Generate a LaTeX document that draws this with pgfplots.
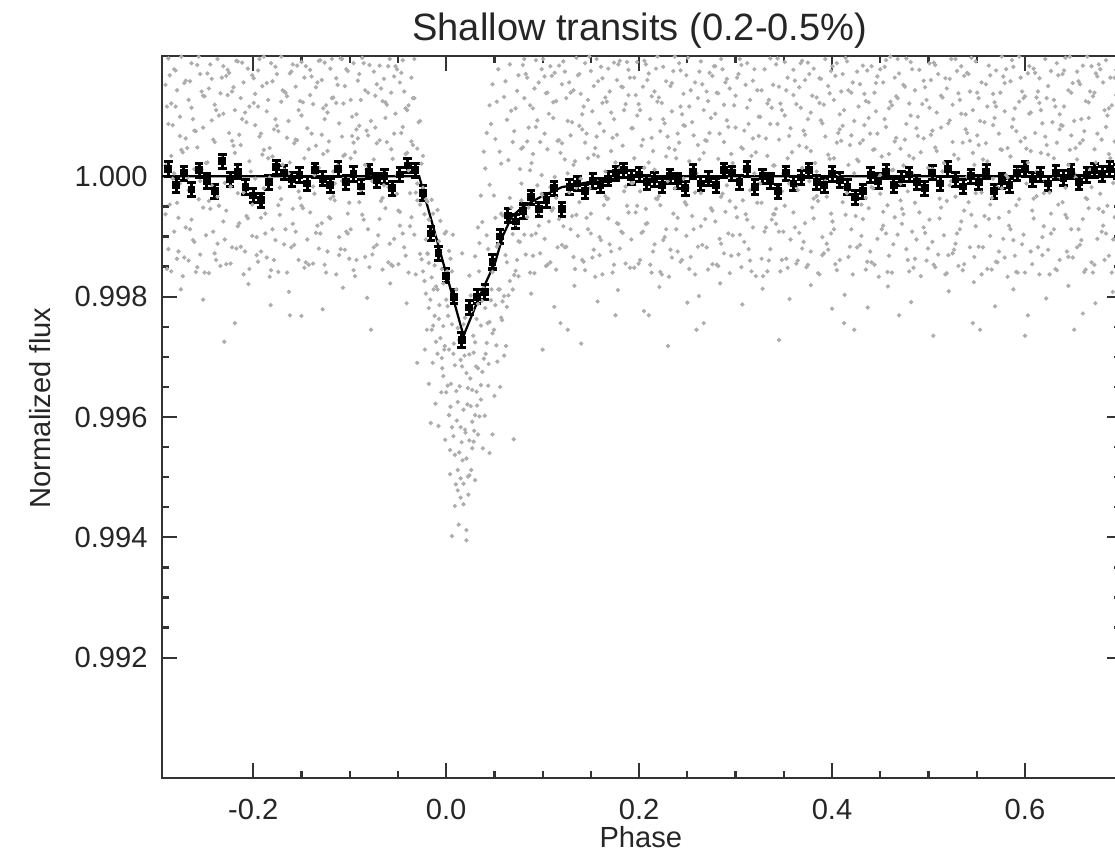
\documentclass[border=0pt]{standalone}
\usepackage{pgfplots}
\usepackage{pgfplotstable}
\pgfplotsset{compat=1.18}
\usepackage{fontspec}
\setmainfont{Liberation Sans}

\pgfplotstableread{
x a b c
-0.291 1.00152 0.99937 1.00018
-0.288 0.99879 1.00087 1.00196
-0.285 1.00034 0.99842 1.00121
-0.282 1.00178 1.00005 0.99908
-0.279 0.99956 1.00143 0.99863
-0.276 1.00099 0.99988 1.00067
-0.273 0.99834 1.00201 1.00040
-0.270 1.00063 0.99915 1.00159
-0.267 1.00127 0.99860 0.99977
-0.264 0.99928 1.00114 1.00188
-0.261 1.00012 0.99891 1.00076
-0.258 1.00185 1.00048 0.99849
-0.255 0.99870 1.00170 0.99992
-0.252 1.00081 0.99948 1.00134
-0.249 0.99902 1.00022 1.00207
-0.246 1.00146 0.99839 0.99959
-0.243 0.99985 1.00093 1.00162
-0.240 1.00057 0.99872 1.00119
-0.237 1.00195 0.99966 0.99888
-0.234 0.99851 1.00138 1.00029
-0.231 1.00104 0.99925 1.00183
-0.228 0.99943 1.00167 0.99854
-0.225 1.00172 0.99999 1.00072
-0.222 0.99882 1.00059 1.00141
-0.219 1.00039 0.99756 1.00110
-0.216 0.99917 1.00191 0.99972
-0.213 1.00130 0.99883 1.00052
-0.210 0.99973 1.00156 0.99837
-0.207 1.00090 0.99934 1.00204
-0.204 0.99846 1.00025 1.00116
-0.201 1.00168 0.99901 0.99953
-0.198 0.99996 1.00137 1.00085
-0.195 1.00116 0.99858 1.00176
-0.192 0.99931 1.00071 0.99875
-0.189 1.00199 0.99980 1.00044
-0.186 0.99865 1.00108 1.00155
-0.183 1.00047 0.99833 0.99998
-0.180 1.00158 1.00033 0.99912
-0.177 0.99894 1.00182 1.00095
-0.174 1.00075 0.99952 0.99841
-0.171 0.99962 1.00124 1.00199
-0.168 1.00141 0.99887 1.00011
-0.165 0.99840 1.00064 1.00133
-0.162 1.00023 0.99769 1.00171
-0.159 1.00186 0.99921 0.99946
-0.156 0.99908 1.00149 1.00061
-0.153 1.00110 0.99975 0.99861
-0.150 0.99951 1.00190 1.00101
-0.147 1.00164 0.99848 1.00030
-0.144 0.99989 1.00080 0.99895
-0.141 1.00135 0.99940 1.00177
-0.138 0.99855 1.00120 0.99983
-0.135 1.00051 0.99906 1.00148
-0.132 1.00192 1.00014 0.99880
-0.129 0.99922 1.00160 1.00069
-0.126 1.00095 0.99853 1.00189
-0.123 0.99875 1.00042 1.00106
-0.120 1.00179 0.99963 0.99930
-0.117 0.99967 1.00131 1.00008
-0.114 1.00122 0.99837 1.00163
-0.111 0.99899 1.00088 0.99869
-0.108 1.00066 0.99992 1.00195
-0.105 1.00150 0.99878 1.00036
-0.102 0.99938 1.00175 0.99905
-0.099 1.00030 0.99912 1.00127
-0.096 1.00188 1.00056 0.99844
-0.093 0.99861 1.00103 1.00078
-0.090 1.00084 0.99957 1.00170
-0.087 0.99981 1.00197 0.99936
-0.084 1.00143 0.99866 1.00019
-0.081 0.99912 1.00068 1.00139
-0.078 1.00005 0.99745 1.00092
-0.075 1.00174 1.00028 0.99882
-0.072 0.99886 1.00153 1.00055
-0.069 1.00060 0.99929 1.00184
-0.066 1.00125 0.99845 0.99964
-0.063 0.99947 1.00097 1.00123
-0.060 1.00183 0.99982 0.99857
-0.057 0.99853 1.00139 1.00045
-0.054 1.00071 0.99896 1.00166
-0.051 0.99971 1.00178 1.00002
-0.048 1.00156 0.99941 0.99918
-0.045 0.99905 1.00082 1.00193
-0.042 1.00037 0.99868 1.00113
-0.039 1.00118 1.00010 0.99840
-0.036 0.99932 1.00164 1.00058
-0.033 1.00195 0.99903 1.00130
-0.030 0.99960 1.00046 0.99988
-0.027 1.00092 0.99871 0.99953
-0.024 0.99981 0.99842 1.00034
-0.021 0.99895 0.99805 0.99962
-0.018 0.99928 0.99781 0.99856
-0.015 0.99832 0.99961 0.99745
-0.012 0.99903 0.99768 0.99852
-0.009 0.99705 0.99944 0.99812
-0.006 0.99873 0.99731 0.99926
-0.003 0.99668 0.99822 0.99751
0.000 0.99795 0.99641 0.99908
0.003 0.99712 0.99876 0.99603
0.006 0.99583 0.99754 0.99842
0.009 0.99686 0.99537 0.99801
0.012 0.99625 0.99748 0.99512
0.015 0.99466 0.99695 0.99583
0.018 0.99612 0.99489 0.99754
0.021 0.99531 0.99673 0.99412
0.024 0.99704 0.99561 0.99835
0.027 0.99592 0.99778 0.99645
0.030 0.99867 0.99603 0.99724
0.033 0.99681 0.99915 0.99788
0.036 0.99752 0.99629 0.99968
0.039 1.00041 0.99814 0.99697
0.042 0.99723 0.99902 1.00072
0.045 0.99986 0.99758 1.00118
0.048 0.99841 1.00153 0.99739
0.051 1.00062 0.99786 0.99931
0.054 0.99812 1.00178 0.99887
0.057 0.99765 1.00021 0.99938
0.060 1.00132 0.99801 0.99702
0.063 0.99857 1.00094 0.99783
0.066 1.00186 0.99826 0.99964
0.069 0.99904 0.99812 1.00057
0.072 1.00113 0.99843 0.99921
0.075 0.99834 1.00168 0.99892
0.078 1.00046 0.99988 0.99960
0.081 0.99903 1.00130 1.00195
0.084 1.00164 1.00058 0.99932
0.087 1.00010 0.99840 1.00118
0.090 0.99868 1.00113 1.00037
0.093 1.00082 1.00193 0.99905
0.096 0.99941 0.99918 1.00156
0.099 1.00178 1.00002 0.99971
0.102 0.99896 1.00166 1.00071
0.105 1.00139 1.00045 0.99853
0.108 0.99982 0.99857 1.00183
0.111 1.00097 1.00123 0.99947
0.114 0.99845 0.99964 1.00125
0.117 0.99929 1.00184 1.00060
0.120 1.00153 1.00055 0.99886
0.123 1.00028 0.99882 1.00174
0.126 0.99745 1.00092 1.00005
0.129 1.00068 1.00139 0.99912
0.132 0.99866 1.00019 1.00143
0.135 1.00197 0.99936 0.99981
0.138 0.99957 1.00170 1.00084
0.141 1.00103 1.00078 0.99861
0.144 1.00056 0.99844 1.00188
0.147 0.99912 1.00127 1.00030
0.150 1.00175 0.99905 0.99938
0.153 0.99878 1.00036 1.00150
0.156 0.99992 1.00195 1.00066
0.159 1.00088 0.99869 0.99899
0.162 0.99837 1.00163 1.00122
0.165 1.00131 1.00008 0.99967
0.168 0.99963 0.99930 1.00179
0.171 1.00042 1.00106 0.99875
0.174 0.99853 1.00189 1.00095
0.177 1.00160 1.00069 0.99922
0.180 1.00014 0.99880 1.00192
0.183 0.99906 1.00148 1.00051
0.186 1.00120 0.99983 0.99855
0.189 0.99940 1.00177 1.00135
0.192 1.00080 0.99895 0.99989
0.195 0.99848 1.00030 1.00164
0.198 1.00190 1.00101 0.99951
0.201 0.99975 0.99861 1.00110
0.204 1.00149 1.00061 0.99908
0.207 0.99921 0.99946 1.00186
0.210 0.99769 1.00171 1.00023
0.213 1.00064 1.00133 0.99840
0.216 0.99887 1.00011 1.00141
0.219 1.00124 1.00199 0.99962
0.222 0.99952 0.99841 1.00075
0.225 1.00182 1.00095 0.99894
0.228 1.00033 0.99912 1.00158
0.231 0.99833 0.99998 1.00047
0.234 1.00108 1.00155 0.99865
0.237 0.99980 1.00044 1.00199
0.240 1.00071 0.99875 0.99931
0.243 0.99858 1.00176 1.00116
0.246 1.00137 1.00085 0.99996
0.249 0.99901 0.99953 1.00168
0.252 1.00025 1.00116 0.99846
0.255 0.99934 1.00204 1.00090
0.258 1.00156 0.99837 0.99973
0.261 0.99883 1.00052 1.00130
0.264 1.00191 0.99972 0.99917
0.267 0.99756 1.00110 1.00039
0.270 1.00059 1.00141 0.99882
0.273 0.99999 1.00072 1.00172
0.276 1.00167 0.99854 0.99943
0.279 0.99925 1.00183 1.00104
0.282 1.00138 1.00029 0.99851
0.285 0.99966 0.99888 1.00195
0.288 0.99872 1.00119 1.00057
0.291 1.00093 1.00162 0.99985
0.294 0.99839 0.99959 1.00146
0.297 1.00022 1.00207 0.99902
0.300 0.99948 1.00134 1.00081
0.303 1.00170 0.99992 0.99870
0.306 1.00048 0.99849 1.00185
0.309 0.99891 1.00076 1.00012
0.312 1.00114 1.00188 0.99928
0.315 0.99860 0.99977 1.00127
0.318 0.99915 1.00159 1.00063
0.321 1.00201 1.00040 0.99834
0.324 0.99988 1.00067 1.00099
0.327 1.00143 0.99863 0.99956
0.330 1.00005 0.99908 1.00178
0.333 0.99842 1.00121 1.00034
0.336 1.00087 1.00196 0.99879
0.339 0.99937 1.00018 1.00152
0.342 0.99946 1.00186 0.99921
0.345 1.00061 0.99908 1.00149
0.348 0.99861 1.00110 0.99975
0.351 1.00101 0.99951 1.00190
0.354 1.00030 1.00164 0.99848
0.357 0.99895 0.99989 1.00080
0.360 1.00177 1.00135 0.99940
0.363 0.99983 0.99855 1.00120
0.366 1.00148 1.00051 0.99906
0.369 0.99880 1.00192 1.00014
0.372 1.00069 0.99922 1.00160
0.375 1.00189 1.00095 0.99853
0.378 1.00106 0.99875 1.00042
0.381 0.99930 1.00179 0.99963
0.384 1.00008 0.99967 1.00131
0.387 1.00163 1.00122 0.99837
0.390 0.99869 0.99899 1.00088
0.393 1.00195 1.00066 0.99992
0.396 1.00036 1.00150 0.99878
0.399 0.99905 0.99938 1.00175
0.402 1.00127 1.00030 0.99912
0.405 0.99844 1.00188 1.00056
0.408 1.00078 0.99861 1.00103
0.411 1.00170 1.00084 0.99957
0.414 0.99936 0.99981 1.00197
0.417 1.00019 1.00143 0.99866
0.420 1.00139 0.99912 1.00068
0.423 1.00092 1.00005 0.99745
0.426 0.99882 1.00174 1.00028
0.429 1.00055 0.99886 1.00153
0.432 1.00184 1.00060 0.99929
0.435 0.99964 1.00125 0.99845
0.438 1.00123 0.99947 1.00097
0.441 0.99857 1.00183 0.99982
0.444 1.00045 0.99853 1.00139
0.447 1.00166 1.00071 0.99896
0.450 1.00002 0.99971 1.00178
0.453 0.99918 1.00156 0.99941
0.456 1.00193 0.99905 1.00082
0.459 1.00113 1.00037 0.99868
0.462 0.99840 1.00118 1.00010
0.465 1.00058 0.99932 1.00164
0.468 1.00130 1.00195 0.99903
0.471 0.99988 0.99960 1.00046
0.474 1.00018 1.00152 0.99937
0.477 1.00196 0.99879 1.00087
0.480 1.00121 1.00034 0.99842
0.483 0.99908 1.00178 1.00005
0.486 0.99863 0.99956 1.00143
0.489 1.00067 1.00099 0.99988
0.492 1.00040 0.99834 1.00201
0.495 1.00159 1.00063 0.99915
0.498 0.99977 1.00127 0.99860
0.501 1.00188 0.99928 1.00114
0.504 1.00076 1.00012 0.99891
0.507 0.99849 1.00185 1.00048
0.510 0.99992 0.99870 1.00170
0.513 1.00134 1.00081 0.99948
0.516 1.00207 0.99902 1.00022
0.519 0.99959 1.00146 0.99839
0.522 1.00162 0.99985 1.00093
0.525 1.00119 1.00057 0.99872
0.528 0.99888 1.00195 0.99966
0.531 1.00029 0.99851 1.00138
0.534 1.00183 1.00104 0.99925
0.537 0.99854 0.99943 1.00167
0.540 1.00072 1.00172 0.99999
0.543 1.00141 0.99882 1.00059
0.546 1.00110 1.00039 0.99756
0.549 0.99972 0.99917 1.00191
0.552 1.00052 1.00130 0.99883
0.555 0.99837 0.99973 1.00156
0.558 1.00204 1.00090 0.99934
0.561 1.00116 0.99846 1.00025
0.564 0.99953 1.00168 0.99901
0.567 1.00085 0.99996 1.00137
0.570 1.00176 1.00116 0.99858
0.573 0.99875 0.99931 1.00071
0.576 1.00044 1.00199 0.99980
0.579 1.00155 0.99865 1.00108
0.582 0.99998 1.00047 0.99833
0.585 0.99912 1.00158 1.00033
0.588 1.00095 0.99894 1.00182
0.591 0.99841 1.00075 0.99952
0.594 1.00199 0.99962 1.00124
0.597 1.00011 1.00141 0.99887
0.600 1.00133 0.99840 1.00064
0.603 1.00171 1.00023 0.99769
0.606 1.00106 1.00042 0.99875
0.609 0.99930 0.99963 1.00179
0.612 1.00008 1.00131 0.99967
0.615 1.00163 0.99837 1.00122
0.618 0.99869 1.00088 0.99899
0.621 1.00195 0.99992 1.00066
0.624 1.00036 0.99878 1.00150
0.627 0.99905 1.00175 0.99938
0.630 1.00127 0.99912 1.00030
0.633 0.99844 1.00056 1.00188
0.636 1.00078 1.00103 0.99861
0.639 1.00170 0.99957 1.00084
0.642 0.99936 1.00197 0.99981
0.645 1.00019 0.99866 1.00143
0.648 1.00139 1.00068 0.99912
0.651 1.00092 0.99745 1.00005
0.654 0.99882 1.00028 1.00174
0.657 1.00055 1.00153 0.99886
0.660 1.00184 0.99929 1.00060
0.663 0.99964 0.99845 1.00125
0.666 1.00123 1.00097 0.99947
0.669 0.99857 0.99982 1.00183
0.672 1.00045 1.00139 0.99853
0.675 1.00166 0.99896 1.00071
0.678 1.00002 1.00178 0.99971
0.681 0.99918 0.99941 1.00156
0.684 1.00193 1.00082 0.99905
0.687 1.00113 0.99868 1.00037
0.690 0.99840 1.00010 1.00118
0.693 1.00058 1.00164 0.99932
0.696 1.00130 0.99903 1.00195
0.699 0.99988 1.00046 0.99960
}\scatterdata

\pgfplotstableread{
x d e
-0.2895 1.00116 0.99846
-0.2865 0.99953 1.00168
-0.2835 1.00085 0.99996
-0.2805 1.00176 1.00116
-0.2775 0.99875 0.99931
-0.2745 1.00044 1.00199
-0.2715 1.00155 0.99865
-0.2685 0.99998 1.00047
-0.2655 0.99912 1.00158
-0.2625 1.00095 0.99894
-0.2595 0.99841 1.00075
-0.2565 1.00199 0.99962
-0.2535 1.00011 1.00141
-0.2505 1.00133 0.99840
-0.2475 1.00171 1.00023
-0.2445 0.99946 1.00186
-0.2415 1.00061 0.99908
-0.2385 0.99861 1.00110
-0.2355 1.00101 0.99951
-0.2325 1.00030 1.00164
-0.2295 0.99895 0.99989
-0.2265 1.00177 1.00135
-0.2235 0.99983 0.99855
-0.2205 1.00148 1.00051
-0.2175 0.99880 1.00192
-0.2145 1.00069 0.99922
-0.2115 1.00189 1.00095
-0.2085 1.00106 0.99875
-0.2055 0.99930 1.00179
-0.2025 1.00008 0.99967
-0.1995 1.00163 1.00122
-0.1965 0.99869 0.99899
-0.1935 1.00195 1.00066
-0.1905 1.00036 1.00150
-0.1875 0.99905 0.99938
-0.1845 1.00127 1.00030
-0.1815 0.99844 1.00188
-0.1785 1.00078 0.99861
-0.1755 1.00170 1.00084
-0.1725 0.99936 0.99981
-0.1695 1.00019 1.00143
-0.1665 1.00139 0.99912
-0.1635 1.00092 1.00005
-0.1605 0.99882 1.00174
-0.1575 1.00055 0.99886
-0.1545 1.00184 1.00060
-0.1515 0.99964 1.00125
-0.1485 1.00123 0.99947
-0.1455 0.99857 1.00183
-0.1425 1.00045 0.99853
-0.1395 1.00166 1.00071
-0.1365 1.00002 0.99971
-0.1335 0.99918 1.00156
-0.1305 1.00193 0.99905
-0.1275 1.00113 1.00037
-0.1245 0.99840 1.00118
-0.1215 1.00058 0.99932
-0.1185 1.00130 1.00195
-0.1155 0.99988 0.99960
-0.1125 1.00018 1.00152
-0.1095 1.00196 0.99879
-0.1065 1.00121 1.00034
-0.1035 0.99908 1.00178
-0.1005 0.99863 0.99956
-0.0975 1.00067 1.00099
-0.0945 1.00040 0.99834
-0.0915 1.00159 1.00063
-0.0885 0.99977 1.00127
-0.0855 1.00188 0.99928
-0.0825 1.00076 1.00012
-0.0795 0.99849 1.00185
-0.0765 0.99992 0.99870
-0.0735 1.00134 1.00081
-0.0705 1.00207 0.99902
-0.0675 0.99959 1.00146
-0.0645 1.00162 0.99985
-0.0615 1.00119 1.00057
-0.0585 0.99888 1.00195
-0.0555 1.00029 0.99851
-0.0525 1.00183 1.00104
-0.0495 0.99854 0.99943
-0.0465 1.00072 1.00172
-0.0435 1.00141 0.99882
-0.0405 1.00110 1.00039
-0.0375 0.99972 0.99917
-0.0345 1.00052 1.00130
-0.0315 0.99837 0.99973
-0.0285 1.00204 1.00090
-0.0255 1.00021 0.99862
-0.0225 0.99937 0.99826
-0.0195 0.99872 0.99958
-0.0165 0.99795 0.99904
-0.0135 0.99938 0.99752
-0.0105 0.99817 0.99725
-0.0075 0.99763 0.99892
-0.0045 0.99846 0.99698
-0.0015 0.99718 0.99905
0.0015 0.99652 0.99784
0.0045 0.99863 0.99617
0.0075 0.99705 0.99568
0.0105 0.99812 0.99643
0.0135 0.99541 0.99728
0.0165 0.99684 0.99872
0.0195 0.99579 0.99765
0.0225 0.99648 0.99501
0.0255 0.99802 0.99618
0.0285 0.99559 0.99707
0.0315 0.99763 0.99642
0.0345 0.99601 0.99889
0.0375 0.99924 0.99675
0.0405 0.99781 1.00013
0.0435 0.99652 0.99879
0.0465 1.00087 0.99794
0.0495 0.99745 0.99968
0.0525 0.99883 1.00124
0.0555 1.00041 0.99812
0.0585 0.99792 0.99935
0.0615 1.00158 0.99869
0.0645 0.99802 1.00027
0.0675 0.99948 1.00109
0.0705 1.00075 0.99836
0.0735 0.99861 1.00142
0.0765 1.00012 0.99891
0.0795 1.00185 1.00048
0.0825 0.99870 1.00170
0.0855 1.00081 0.99948
0.0885 0.99902 1.00022
0.0915 1.00146 0.99839
0.0945 0.99985 1.00093
0.0975 1.00057 0.99872
0.1005 1.00195 0.99966
0.1035 0.99851 1.00138
0.1065 1.00104 0.99925
0.1095 0.99943 1.00167
0.1125 1.00172 0.99999
0.1155 0.99882 1.00059
0.1185 1.00039 0.99756
0.1215 0.99917 1.00191
0.1245 1.00130 0.99883
0.1275 0.99973 1.00156
0.1305 1.00090 0.99934
0.1335 0.99846 1.00025
0.1365 1.00168 0.99901
0.1395 0.99996 1.00137
0.1425 1.00116 0.99858
0.1455 0.99931 1.00071
0.1485 1.00199 0.99980
0.1515 0.99865 1.00108
0.1545 1.00047 0.99833
0.1575 1.00158 1.00033
0.1605 0.99894 1.00182
0.1635 1.00075 0.99952
0.1665 0.99962 1.00124
0.1695 1.00141 0.99887
0.1725 0.99840 1.00064
0.1755 1.00023 0.99769
0.1785 1.00186 0.99921
0.1815 0.99908 1.00149
0.1845 1.00110 0.99975
0.1875 0.99951 1.00190
0.1905 1.00164 0.99848
0.1935 0.99989 1.00080
0.1965 1.00135 0.99940
0.1995 0.99855 1.00120
0.2025 1.00051 0.99906
0.2055 1.00192 1.00014
0.2085 0.99922 1.00160
0.2115 1.00095 0.99853
0.2145 0.99875 1.00042
0.2175 1.00179 0.99963
0.2205 0.99967 1.00131
0.2235 1.00122 0.99837
0.2265 0.99899 1.00088
0.2295 1.00066 0.99992
0.2325 1.00150 0.99878
0.2355 0.99938 1.00175
0.2385 1.00030 0.99912
0.2415 1.00188 1.00056
0.2445 0.99861 1.00103
0.2475 1.00084 0.99957
0.2505 0.99981 1.00197
0.2535 1.00143 0.99866
0.2565 0.99912 1.00068
0.2595 1.00005 0.99745
0.2625 1.00174 1.00028
0.2655 0.99886 1.00153
0.2685 1.00060 0.99929
0.2715 1.00125 0.99845
0.2745 0.99947 1.00097
0.2775 1.00183 0.99982
0.2805 0.99853 1.00139
0.2835 1.00071 0.99896
0.2865 0.99971 1.00178
0.2895 1.00156 0.99941
0.2925 0.99905 1.00082
0.2955 1.00037 0.99868
0.2985 1.00118 1.00010
0.3015 0.99932 1.00164
0.3045 1.00195 0.99903
0.3075 0.99960 1.00046
0.3105 1.00152 0.99937
0.3135 0.99879 1.00087
0.3165 1.00034 0.99842
0.3195 1.00178 1.00005
0.3225 0.99956 1.00143
0.3255 1.00099 0.99988
0.3285 0.99834 1.00201
0.3315 1.00063 0.99915
0.3345 1.00127 0.99860
0.3375 0.99928 1.00114
0.3405 1.00018 0.99937
0.3435 1.00196 1.00087
0.3465 1.00121 0.99842
0.3495 0.99908 1.00005
0.3525 0.99863 1.00143
0.3555 1.00067 0.99988
0.3585 1.00040 1.00201
0.3615 1.00159 0.99915
0.3645 0.99977 0.99860
0.3675 1.00188 1.00114
0.3705 1.00076 0.99891
0.3735 0.99849 1.00048
0.3765 0.99992 1.00170
0.3795 1.00134 0.99948
0.3825 1.00207 1.00022
0.3855 0.99959 0.99839
0.3885 1.00162 1.00093
0.3915 1.00119 0.99872
0.3945 0.99888 0.99966
0.3975 1.00029 1.00138
0.4005 1.00183 0.99925
0.4035 0.99854 1.00167
0.4065 1.00072 0.99999
0.4095 1.00141 1.00059
0.4125 1.00110 0.99756
0.4155 0.99972 1.00191
0.4185 1.00052 0.99883
0.4215 0.99837 1.00156
0.4245 1.00204 0.99934
0.4275 1.00116 1.00025
0.4305 0.99953 0.99901
0.4335 1.00085 1.00137
0.4365 1.00176 0.99858
0.4395 0.99875 1.00071
0.4425 1.00044 0.99980
0.4455 1.00155 1.00108
0.4485 0.99998 0.99833
0.4515 0.99912 1.00033
0.4545 1.00095 1.00182
0.4575 0.99841 0.99952
0.4605 1.00199 1.00124
0.4635 1.00011 0.99887
0.4665 1.00133 1.00064
0.4695 1.00171 0.99769
0.4725 0.99946 0.99921
0.4755 1.00061 1.00149
0.4785 0.99861 0.99975
0.4815 1.00101 1.00190
0.4845 1.00030 0.99848
0.4875 0.99895 1.00080
0.4905 1.00177 0.99940
0.4935 0.99983 1.00120
0.4965 1.00148 0.99906
0.4995 0.99880 1.00014
0.5025 1.00069 1.00160
0.5055 1.00189 0.99853
0.5085 1.00106 1.00042
0.5115 0.99930 0.99963
0.5145 1.00008 1.00131
0.5175 1.00163 0.99837
0.5205 0.99869 1.00088
0.5235 1.00195 0.99992
0.5265 1.00036 0.99878
0.5295 0.99905 1.00175
0.5325 1.00127 0.99912
0.5355 0.99844 1.00056
0.5385 1.00078 1.00103
0.5415 1.00170 0.99957
0.5445 0.99936 1.00197
0.5475 1.00019 0.99866
0.5505 1.00139 1.00068
0.5535 1.00092 0.99745
0.5565 0.99882 1.00028
0.5595 1.00055 1.00153
0.5625 1.00184 0.99929
0.5655 0.99964 0.99845
0.5685 1.00123 1.00097
0.5715 0.99857 0.99982
0.5745 1.00045 1.00139
0.5775 1.00166 0.99896
0.5805 1.00002 1.00178
0.5835 0.99918 0.99941
0.5865 1.00193 1.00082
0.5895 1.00113 0.99868
0.5925 0.99840 1.00010
0.5955 1.00058 1.00164
0.5985 1.00130 0.99903
0.6015 0.99988 1.00046
0.6045 1.00104 1.00183
0.6075 0.99943 0.99854
0.6105 1.00172 1.00072
0.6135 0.99882 1.00141
0.6165 1.00039 1.00110
0.6195 0.99917 0.99972
0.6225 1.00130 1.00052
0.6255 0.99973 0.99837
0.6285 1.00090 1.00204
0.6315 0.99846 1.00116
0.6345 1.00168 0.99953
0.6375 0.99996 1.00085
0.6405 1.00116 1.00176
0.6435 0.99931 0.99875
0.6465 1.00199 1.00044
0.6495 0.99865 1.00155
0.6525 1.00047 0.99998
0.6555 1.00158 0.99912
0.6585 0.99894 1.00095
0.6615 1.00075 0.99841
0.6645 0.99962 1.00199
0.6675 1.00141 1.00011
0.6705 0.99840 1.00133
0.6735 1.00023 1.00171
0.6765 1.00186 0.99946
0.6795 0.99908 1.00061
0.6825 1.00110 0.99861
0.6855 0.99951 1.00101
0.6885 1.00164 1.00030
0.6915 0.99989 0.99895
0.6945 1.00135 1.00177
0.6975 0.99855 0.99983
}\scattertwo

\pgfplotstableread{
x y
-0.019 0.99871
-0.013 0.99812
-0.007 0.99786
-0.004 0.99681
-0.002 0.99712
0.001 0.99842
0.002 0.99768
0.004 0.99545
0.005 0.99655
0.006 0.99402
0.007 0.99903
0.008 0.99722
0.010 0.99488
0.011 0.99594
0.013 0.99421
0.014 0.99651
0.016 0.99558
0.017 0.99528
0.019 0.99702
0.020 0.99574
0.021 0.99395
0.022 0.99621
0.023 0.99471
0.025 0.99664
0.026 0.99512
0.028 0.99735
0.029 0.99577
0.031 0.99684
0.032 0.99619
0.034 0.99842
0.037 0.99793
0.043 0.99756
0.047 0.99812
0.052 0.99719
0.058 0.99761
0.070 0.99563
-0.022 0.99712
-0.018 0.99655
-0.014 0.99690
-0.011 0.99622
-0.008 0.99585
-0.005 0.99641
-0.001 0.99562
0.003 0.99603
0.027 0.99548
0.033 0.99571
0.036 0.99653
0.040 0.99602
0.044 0.99688
0.048 0.99571
0.050 0.99635
0.053 0.99692
0.041 0.99705
0.038 0.99548
0.009 0.99452
0.012 0.99478
0.024 0.99503
0.030 0.99495
0.015 0.99498
0.018 0.99455
0.004 0.99505
-0.016 0.99590
0.045 0.99540
0.056 0.99650
-0.020 0.99745
0.062 0.99718
-0.230 0.99725
-0.150 0.99768
-0.030 0.99690
0.100 0.99712
0.140 0.99722
0.230 0.99718
0.250 0.99790
0.345 0.99728
0.400 0.99780
0.505 0.99735
0.600 0.99735
0.660 0.99772
-0.275 0.99812
-0.252 0.99795
-0.205 0.99821
-0.182 0.99786
-0.163 0.99808
-0.128 0.99779
-0.107 0.99815
-0.082 0.99798
-0.058 0.99822
-0.041 0.99789
0.088 0.99805
0.112 0.99783
0.133 0.99818
0.157 0.99792
0.178 0.99811
0.205 0.99776
0.221 0.99816
0.262 0.99801
0.284 0.99822
0.307 0.99787
0.328 0.99813
0.356 0.99796
0.378 0.99819
0.413 0.99803
0.437 0.99782
0.458 0.99817
0.482 0.99791
0.521 0.99809
0.547 0.99824
0.569 0.99784
0.588 0.99812
0.622 0.99797
0.645 0.99818
0.673 0.99789
0.691 0.99808
}\extradata

\pgfplotstableread{
x y e
-0.288 1.00012 0.00012
-0.280 0.99985 0.00012
-0.272 1.00005 0.00012
-0.264 0.99978 0.00012
-0.256 1.00010 0.00012
-0.248 0.99992 0.00012
-0.240 0.99975 0.00012
-0.232 1.00025 0.00012
-0.224 0.99995 0.00012
-0.216 1.00008 0.00012
-0.208 0.99982 0.00012
-0.200 0.99968 0.00012
-0.192 0.99960 0.00012
-0.184 0.99990 0.00012
-0.176 1.00015 0.00012
-0.168 1.00006 0.00012
-0.160 0.99995 0.00012
-0.152 1.00002 0.00012
-0.144 0.99988 0.00012
-0.136 1.00010 0.00012
-0.128 0.99996 0.00012
-0.120 0.99985 0.00012
-0.112 1.00012 0.00012
-0.104 0.99990 0.00012
-0.096 1.00004 0.00012
-0.088 0.99983 0.00012
-0.080 1.00008 0.00012
-0.072 0.99993 0.00012
-0.064 1.00000 0.00012
-0.056 0.99980 0.00012
-0.048 1.00003 0.00012
-0.040 1.00018 0.00012
-0.032 1.00010 0.00012
-0.024 0.99972 0.00012
-0.016 0.99905 0.00012
-0.008 0.99872 0.00012
0.000 0.99835 0.00012
0.008 0.99800 0.00012
0.016 0.99728 0.00012
0.024 0.99782 0.00012
0.032 0.99800 0.00012
0.040 0.99808 0.00012
0.048 0.99858 0.00012
0.056 0.99900 0.00012
0.064 0.99935 0.00012
0.072 0.99925 0.00012
0.080 0.99942 0.00012
0.088 0.99965 0.00012
0.096 0.99945 0.00012
0.104 0.99960 0.00012
0.112 0.99980 0.00012
0.120 0.99945 0.00012
0.128 0.99982 0.00012
0.136 0.99988 0.00012
0.144 0.99975 0.00012
0.152 0.99992 0.00012
0.160 0.99985 0.00012
0.168 0.99996 0.00012
0.176 1.00005 0.00012
0.184 1.00010 0.00012
0.192 0.99998 0.00012
0.200 1.00003 0.00012
0.208 0.99990 0.00012
0.216 0.99995 0.00012
0.224 0.99985 0.00012
0.232 1.00000 0.00012
0.240 0.99992 0.00012
0.248 0.99980 0.00012
0.256 1.00008 0.00012
0.264 0.99988 0.00012
0.272 0.99996 0.00012
0.280 0.99985 0.00012
0.288 1.00010 0.00012
0.296 1.00005 0.00012
0.304 0.99990 0.00012
0.312 1.00012 0.00012
0.320 0.99982 0.00012
0.328 1.00000 0.00012
0.336 0.99992 0.00012
0.344 0.99975 0.00012
0.352 1.00005 0.00012
0.360 0.99988 0.00012
0.368 0.99998 0.00012
0.376 1.00010 0.00012
0.384 0.99990 0.00012
0.392 0.99985 0.00012
0.400 1.00004 0.00012
0.408 0.99994 0.00012
0.416 0.99982 0.00012
0.424 0.99965 0.00012
0.432 0.99975 0.00012
0.440 1.00002 0.00012
0.448 0.99992 0.00012
0.456 1.00008 0.00012
0.464 0.99985 0.00012
0.472 0.99996 0.00012
0.480 1.00003 0.00012
0.488 0.99990 0.00012
0.496 0.99980 0.00012
0.504 1.00006 0.00012
0.512 0.99988 0.00012
0.520 1.00012 0.00012
0.528 0.99995 0.00012
0.536 0.99983 0.00012
0.544 1.00000 0.00012
0.552 0.99990 0.00012
0.560 1.00008 0.00012
0.568 0.99975 0.00012
0.576 0.99992 0.00012
0.584 0.99985 0.00012
0.592 1.00005 0.00012
0.600 1.00012 0.00012
0.608 0.99995 0.00012
0.616 1.00003 0.00012
0.624 0.99988 0.00012
0.632 1.00006 0.00012
0.640 0.99997 0.00012
0.648 1.00008 0.00012
0.656 0.99990 0.00012
0.664 1.00002 0.00012
0.672 1.00010 0.00012
0.680 1.00004 0.00012
0.688 1.00012 0.00012
0.696 1.00008 0.00012
}\bindata

\begin{document}
\begin{tikzpicture}
\useasboundingbox (-57.9pt,-28.2pt) rectangle (340.4pt,277.9pt);
\begin{axis}[
  at={(0pt,0pt)}, anchor=south west,
  scale only axis, width=342.7pt, height=257.9pt,
  xmin=-0.2945, xmax=0.7, ymin=0.990, ymax=1.002,
  xtick={-0.2,0,0.2,0.4,0.6},
  xticklabels={-0.2,0.0,0.2,0.4,0.6},
  ytick={0.992,0.994,0.996,0.998,1.000},
  yticklabels={0.992,0.994,0.996,0.998,1.000},
  minor x tick num=3, minor y tick num=3,
  tick align=inside, tick pos=both,
  major tick length=5.2pt, minor tick length=2.6pt,
  axis line style={line width=0.9pt, black!80},
  tick style={line width=0.8pt, black!80},
  tick label style={font=\fontsize{10.4}{12}\selectfont, text=black!85},
  xticklabel style={anchor=base, yshift=-15pt},
  yticklabel style={anchor=east, inner sep=0pt, xshift=-5pt},
  title={Shallow transits (0.2-0.5\%)},
  title style={at={(axis description cs:0.498,1.0221)}, anchor=base, yshift=-6pt, font=\fontsize{13.6}{16}\selectfont, text=black!85, inner sep=0pt},
  xlabel={Phase},
  xlabel style={at={(axis description cs:0.499,-0.0969)}, anchor=base, font=\fontsize{10.4}{12}\selectfont, text=black!85, inner sep=0pt},
  ylabel={Normalized flux},
  ylabel style={at={(axis description cs:-0.1167,0.5125)}, anchor=base, rotate=0, font=\fontsize{10.4}{12}\selectfont, text=black!85, inner sep=0pt},
  scatter/.style={only marks, mark=*, color=black!32, mark size=0.55pt},
]
\addplot[scatter] table[x=x, y=a] {\scatterdata};
\addplot[scatter] table[x=x, y=b] {\scatterdata};
\addplot[scatter] table[x=x, y=c] {\scatterdata};
\addplot[scatter] table[x=x, y=d] {\scattertwo};
\addplot[scatter] table[x=x, y=e] {\scattertwo};
\addplot[scatter] table[x=x, y=y] {\extradata};
\addplot[black, line width=0.8pt] coordinates {
(-0.2945,1.0) (-0.028,1.0) (0.018,0.99735) (0.035,0.99802) (0.051,0.99858) (0.059,0.99902) (0.068,0.99933) (0.080,0.99950) (0.097,0.99965) (0.120,0.99982) (0.160,0.99994) (0.200,1.0) (0.7,1.0)
};
\addplot[black, only marks, mark=square*, mark size=1.2pt,
  error bars/.cd, y dir=both, y explicit,
  error bar style={line width=1.1pt, black},
  error mark options={rotate=90, mark size=1.5pt, line width=1.1pt, black}]
  table[x=x, y=y, y error=e] {\bindata};
\end{axis}
\end{tikzpicture}
\end{document}
